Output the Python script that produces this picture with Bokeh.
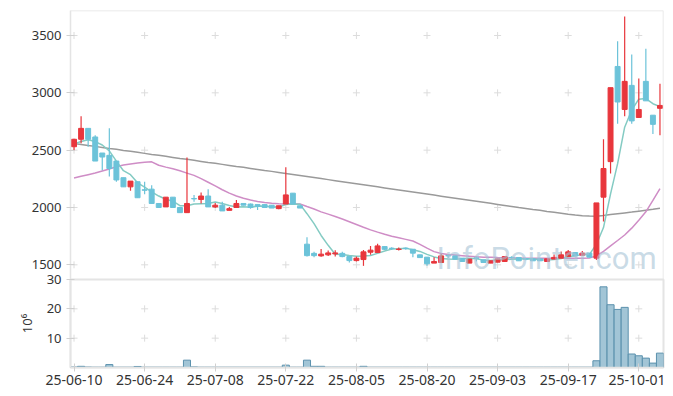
from bokeh.plotting import figure
from bokeh.layouts import column
from bokeh.models import ColumnDataSource, Range1d, FixedTicker, Label, Span
from bokeh.embed import file_html
from bokeh.resources import INLINE

dates = ["25-06-10", "25-06-11", "25-06-12", "25-06-13", "25-06-16", "25-06-17", "25-06-18", "25-06-19", "25-06-20", "25-06-23",
         "25-06-24", "25-06-25", "25-06-26", "25-06-27", "25-06-30", "25-07-01", "25-07-02", "25-07-03", "25-07-04", "25-07-07",
         "25-07-08", "25-07-09", "25-07-10", "25-07-11", "25-07-14", "25-07-15", "25-07-16", "25-07-17", "25-07-18", "25-07-21",
         "25-07-22", "25-07-23", "25-07-24", "25-07-25", "25-07-28", "25-07-29", "25-07-30", "25-07-31", "25-08-01", "25-08-04",
         "25-08-05", "25-08-06", "25-08-07", "25-08-08", "25-08-11", "25-08-12", "25-08-13", "25-08-14", "25-08-18", "25-08-19",
         "25-08-20", "25-08-21", "25-08-22", "25-08-25", "25-08-26", "25-08-27", "25-08-28", "25-08-29", "25-09-01", "25-09-02",
         "25-09-03", "25-09-04", "25-09-05", "25-09-08", "25-09-09", "25-09-10", "25-09-11", "25-09-12", "25-09-15", "25-09-16",
         "25-09-17", "25-09-18", "25-09-19", "25-09-22", "25-09-23", "25-09-24", "25-09-25", "25-09-26", "25-09-29", "25-09-30",
         "25-10-01", "25-10-02", "25-10-10", "25-10-13"]

opens = [2530, 2595, 2690, 2615, 2475, 2455, 2405, 2260, 2180, 2225,
         2155, 2160, 2035, 2005, 2090, 2000, 1955, 2078, 2070, 2100,
         2005, 2020, 1975, 2000, 2035, 2030, 2025, 2025, 2020, 1990,
         2030, 2125, 2015, 1680, 1600, 1578, 1587, 1595, 1600, 1572,
         1537, 1546, 1610, 1607, 1659, 1645, 1634, 1645, 1636, 1587,
         1567, 1515, 1520, 1580, 1578, 1558, 1515, 1560, 1543, 1515,
         1523, 1529, 1565, 1563, 1553, 1552, 1552, 1529, 1550, 1558,
         1572, 1607, 1584, 1602, 1558, 2090, 2400, 3230, 2855, 3065,
         2785, 3100, 2805, 2865]
highs = [2600, 2795, 2690, 2630, 2475, 2690, 2405, 2260, 2230, 2225,
         2225, 2195, 2035, 2090, 2090, 2000, 2435, 2110, 2130, 2160,
         2040, 2050, 2005, 2065, 2035, 2035, 2025, 2025, 2020, 2015,
         2350, 2125, 2015, 1740, 1613, 1637, 1625, 1628, 1613, 1572,
         1572, 1630, 1665, 1683, 1660, 1654, 1650, 1652, 1636, 1587,
         1567, 1567, 1596, 1590, 1578, 1558, 1550, 1572, 1543, 1535,
         1552, 1572, 1575, 1563, 1560, 1552, 1552, 1552, 1590, 1616,
         1630, 1607, 1620, 1602, 2040, 2595, 3045, 3450, 3665, 3335,
         3125, 3385, 2805, 3080]
lows = [2500, 2560, 2530, 2405, 2325, 2270, 2225, 2180, 2145, 2085,
        2115, 2030, 2000, 2005, 2000, 1955, 1955, 2050, 2035, 2005,
        1995, 1970, 1975, 2000, 2020, 1990, 1978, 2000, 1995, 1985,
        2030, 2030, 1995, 1572, 1567, 1570, 1578, 1572, 1567, 1520,
        1529, 1491, 1587, 1607, 1630, 1630, 1625, 1632, 1567, 1563,
        1491, 1515, 1520, 1560, 1550, 1529, 1515, 1530, 1520, 1515,
        1523, 1529, 1555, 1535, 1540, 1535, 1535, 1529, 1550, 1558,
        1572, 1578, 1584, 1567, 1543, 1877, 2297, 2730, 2795, 2730,
        2785, 2930, 2640, 2630]
closes = [2595, 2690, 2595, 2405, 2440, 2340, 2240, 2180, 2230, 2085,
          2150, 2035, 2000, 2090, 2000, 1955, 2035, 2075, 2100, 2005,
          2020, 1970, 1990, 2035, 2020, 2000, 2010, 2000, 1995, 2015,
          2110, 2030, 1995, 1580, 1580, 1593, 1604, 1604, 1572, 1537,
          1558, 1613, 1628, 1665, 1635, 1642, 1637, 1642, 1602, 1563,
          1509, 1529, 1578, 1578, 1550, 1529, 1550, 1558, 1520, 1535,
          1552, 1572, 1563, 1535, 1550, 1535, 1535, 1552, 1565, 1587,
          1613, 1578, 1602, 1567, 2040, 2340, 3045, 2920, 3100, 2755,
          2855, 2930, 2725, 2890]
ma5 = [2555, 2575, 2590, 2575, 2545, 2494, 2404, 2321, 2286, 2215,
       2177, 2136, 2100, 2072, 2055, 2016, 2016, 2031, 2033, 2034,
       2047, 2034, 2017, 2004, 2007, 2003, 2011, 2013, 2005, 2004,
       2026, 2030, 2029, 1946, 1859, 1756, 1670, 1592, 1591, 1582,
       1575, 1577, 1582, 1600, 1620, 1637, 1641, 1644, 1632, 1617,
       1591, 1569, 1556, 1551, 1549, 1553, 1557, 1553, 1541, 1538,
       1543, 1547, 1548, 1551, 1554, 1551, 1544, 1541, 1547, 1555,
       1570, 1579, 1589, 1589, 1680, 1825, 2119, 2382, 2700, 2850,
       2945, 2950, 2905, 2880]
ma20 = [2258, 2272, 2286, 2300, 2318, 2336, 2355, 2370, 2380, 2388,
        2394, 2398, 2368, 2352, 2338, 2320, 2300, 2280, 2252, 2220,
        2188, 2155, 2125, 2100, 2080, 2065, 2052, 2044, 2038, 2033,
        2031, 2030, 2030, 2008, 1987, 1962, 1942, 1922, 1900, 1876,
        1852, 1828, 1805, 1785, 1766, 1750, 1736, 1722, 1708, 1678,
        1645, 1615, 1598, 1590, 1585, 1580, 1575, 1570, 1567, 1565,
        1563, 1562, 1560, 1559, 1558, 1558, 1557, 1557, 1557, 1557,
        1558, 1558, 1558, 1560, 1578, 1618, 1665, 1712, 1760, 1820,
        1888, 1962, 2062, 2165]
ma60 = [2558, 2550, 2541, 2533, 2524, 2515, 2507, 2498, 2490, 2481,
        2472, 2463, 2455, 2446, 2437, 2428, 2420, 2411, 2402, 2393,
        2385, 2376, 2367, 2358, 2350, 2341, 2332, 2323, 2315, 2306,
        2297, 2288, 2279, 2270, 2261, 2252, 2243, 2234, 2225, 2216,
        2207, 2198, 2189, 2180, 2171, 2162, 2153, 2144, 2135, 2126,
        2117, 2108, 2099, 2090, 2081, 2072, 2063, 2054, 2045, 2036,
        2027, 2018, 2009, 2000, 1992, 1983, 1975, 1966, 1958, 1950,
        1942, 1935, 1929, 1925, 1924, 1930, 1938, 1946, 1953, 1960,
        1968, 1976, 1984, 1993]
volume_m = [0.15, 0.4, 0.15, 0.1, 0.1, 1.0, 0.1, 0.1, 0.1, 0.35,
            0.1, 0.1, 0.1, 0.1, 0.1, 0.1, 2.5, 0.2, 0.1, 0.1,
            0.1, 0.1, 0.1, 0.1, 0.1, 0.1, 0.1, 0.1, 0.1, 0.1,
            0.8, 0.1, 0.1, 2.5, 0.4, 0.4, 0.1, 0.1, 0.1, 0.1,
            0.1, 0.4, 0.1, 0.1, 0.1, 0.1, 0.1, 0.1, 0.1, 0.1,
            0.1, 0.1, 0.1, 0.1, 0.1, 0.1, 0.1, 0.1, 0.1, 0.1,
            0.1, 0.1, 0.1, 0.1, 0.1, 0.1, 0.1, 0.1, 0.1, 0.1,
            0.1, 0.1, 0.1, 0.1, 2.3, 27.5, 21.4, 19.8, 20.5, 4.6,
            4.0, 3.2, 1.5, 4.9]

price_ticks = [1500, 2000, 2500, 3000, 3500]
volume_ticks = [10, 20, 30]
date_tick_idx = [0, 10, 20, 30, 40, 50, 60, 70, 80]

UP = "#e8363c"
DOWN = "#6cc3d9"
GRID = "#dcdcdc"
FRAME = "#e4e4e4"
FONT = "Noto Sans"

idx = list(range(len(dates)))
colors = [UP if c >= o else DOWN for o, c in zip(opens, closes)]
src = ColumnDataSource(dict(x=idx, o=opens, h=highs, l=lows, c=closes,
                            top=[max(o, c) for o, c in zip(opens, closes)],
                            bot=[min(o, c) for o, c in zip(opens, closes)],
                            col=colors, ma5=ma5, ma20=ma20, ma60=ma60, vol=volume_m))

xr = Range1d(-0.5, len(dates) - 0.5)
yr = Range1d(1372, 3718)

p = figure(width=665, height=279, x_range=xr, y_range=yr,
           output_backend="svg", toolbar_location=None, x_axis_location=None,
           min_border_left=70, min_border_right=2, min_border_top=10, min_border_bottom=0)
p.grid.visible = False
p.outline_line_color = None
p.add_layout(Span(location=yr.end, dimension="width", line_color=FRAME, line_width=1.5))
p.add_layout(Span(location=xr.end, dimension="height", line_color=FRAME, line_width=1.5))

gx = [t for t in date_tick_idx for _ in price_ticks]
gy = [v for _ in date_tick_idx for v in price_ticks]
p.scatter(gx, gy, marker="cross", size=7, line_color=GRID, line_width=1)

p.line("x", "ma60", source=src, line_color="#9a9a9a", line_width=1.5)
p.line("x", "ma20", source=src, line_color="#cf8dc6", line_width=1.5)
p.line("x", "ma5", source=src, line_color="#84cbc3", line_width=1.5)
p.segment("x", "h", "x", "l", source=src, line_color="col", line_width=1.2)
p.vbar(x="x", top="top", bottom="bot", width=0.7, source=src, fill_color="col", line_color="col")

p.yaxis.ticker = FixedTicker(ticks=price_ticks)
p.yaxis.axis_line_color = FRAME
p.yaxis.axis_line_width = 1.5
p.yaxis.major_tick_line_color = "#d0d0d0"
p.yaxis.major_tick_in = 4
p.yaxis.major_tick_out = 4
p.yaxis.minor_tick_line_color = None
p.yaxis.major_label_text_font = FONT
p.yaxis.major_label_text_font_size = "13px"
p.yaxis.major_label_text_color = "#333333"

wm = Label(x=366, y=21, x_units="screen", y_units="screen", text="InfoPointer.com",
           text_font="Roboto", text_font_size="31px", text_baseline="alphabetic",
           text_color="#a6c3d6", text_alpha=0.6)
p.add_layout(wm)

v = figure(width=665, height=119, x_range=xr, y_range=Range1d(0, 30),
           output_backend="svg", toolbar_location=None,
           min_border_left=70, min_border_right=2, min_border_top=10, min_border_bottom=21)
v.margin = (-10, 0, 0, 0)
v.border_fill_alpha = 0
v.grid.visible = False
v.outline_line_color = FRAME
v.outline_line_width = 2
vx = [t for t in date_tick_idx for _ in volume_ticks[:-1]]
vy = [y for _ in date_tick_idx for y in volume_ticks[:-1]]
v.scatter(vx, vy, marker="cross", size=7, line_color=GRID, line_width=1)
v.vbar(x="x", top="vol", width=1.0, source=src, fill_color="#98bfd2", fill_alpha=0.9,
       line_color="#5b91ad", line_width=1)

v.yaxis.ticker = FixedTicker(ticks=volume_ticks)
v.yaxis.axis_label = "10\u2076"
v.yaxis.axis_label_text_font = FONT
v.yaxis.axis_label_text_font_style = "normal"
v.yaxis.axis_label_text_font_size = "13px"
v.yaxis.axis_label_text_color = "#333333"
v.yaxis.axis_label_standoff = 8
v.xaxis.ticker = FixedTicker(ticks=date_tick_idx)
v.xaxis.major_label_overrides = {i: dates[i] for i in date_tick_idx}
for ax in (v.xaxis, v.yaxis):
    ax.axis_line_color = FRAME
    ax.axis_line_width = 1.5
    ax.major_tick_line_color = "#d0d0d0"
    ax.major_tick_in = 4
    ax.major_tick_out = 4
    ax.minor_tick_line_color = None
    ax.major_label_text_font = FONT
    ax.major_label_text_font_size = "13px"
    ax.major_label_text_color = "#333333"
v.xaxis.major_label_text_font_size = "14px"
v.xaxis.major_label_standoff = 3

layout = column(p, v, spacing=0)
open("out.html", "w").write(file_html(layout, INLINE))
